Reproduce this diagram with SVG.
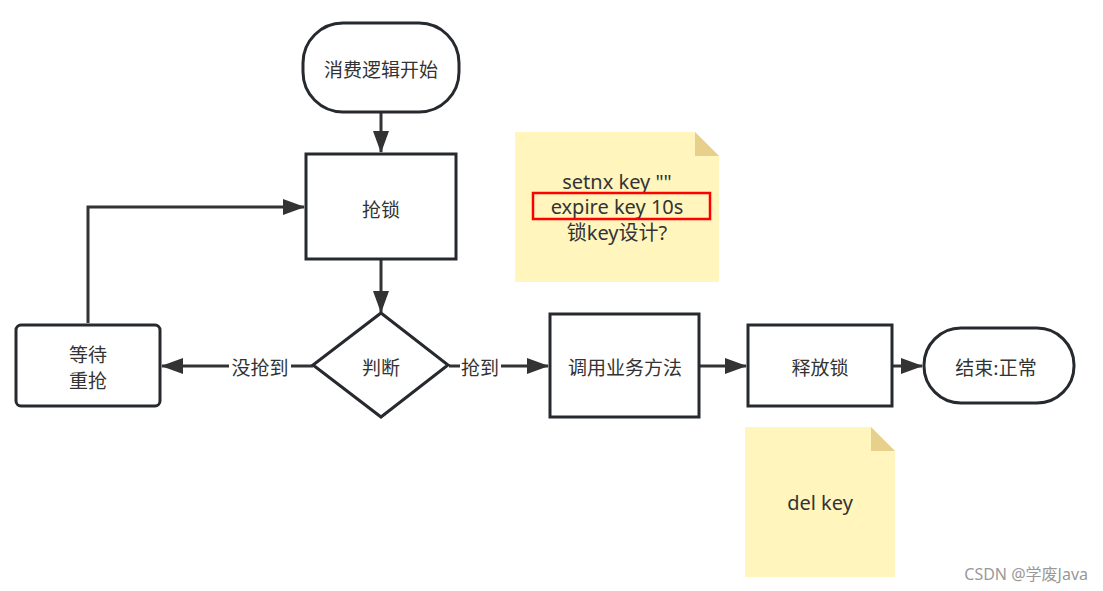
<svg xmlns="http://www.w3.org/2000/svg" width="1103" height="591" viewBox="0 0 1103 591">
<style>
.node{fill:#fff;stroke:#262a2e;stroke-width:3}
.lbl{font-family:"Noto Sans CJK SC","Noto Sans",sans-serif;font-size:19px;fill:#333;text-anchor:middle;dominant-baseline:central}
.conn{fill:none;stroke:#333;stroke-width:3}
.note{fill:#fff5bd}
.fold{fill:#e6d08c}
.elbl{font-family:"Noto Sans CJK SC","Noto Sans",sans-serif;font-size:19px;fill:#333;text-anchor:middle;dominant-baseline:central}
.ntxt{font-family:"Noto Sans","Noto Sans CJK SC",sans-serif;font-size:20px;fill:#333;text-anchor:middle;dominant-baseline:central}
</style>
<defs>
<marker id="ah" markerUnits="userSpaceOnUse" markerWidth="22" markerHeight="16" refX="21" refY="8" orient="auto">
<path d="M0,0 L22,8 L0,16 z" fill="#333"/>
</marker>
</defs>
<rect width="1103" height="591" fill="#fff"/>
<g id="connectors">
<path class="conn" d="M381,113 V152" marker-end="url(#ah)"/>
<path class="conn" d="M381,260 V312" marker-end="url(#ah)"/>
<path class="conn" d="M88,323 V207 H304" marker-end="url(#ah)"/>
<path class="conn" d="M313,366 H162" marker-end="url(#ah)"/>
<path class="conn" d="M449,366 H548" marker-end="url(#ah)"/>
<path class="conn" d="M700,366 H746" marker-end="url(#ah)"/>
<path class="conn" d="M893,366 H922" marker-end="url(#ah)"/>
<rect x="229" y="354" width="62" height="25" fill="#fff"/>
<text class="elbl" x="260" y="366">没抢到</text>
<rect x="460" y="354" width="41" height="25" fill="#fff"/>
<text class="elbl" x="480" y="366">抢到</text>
</g>
<g id="start">
<rect class="node" x="303" y="23" width="156" height="89" rx="40" ry="40"/>
<text class="lbl" x="381" y="68">消费逻辑开始</text>
</g>
<g id="lock">
<rect class="node" x="306" y="154" width="150" height="105"/>
<text class="lbl" x="381" y="208">抢锁</text>
</g>
<g id="decide">
<polygon class="node" points="381,313 448,365 381,417 313,365"/>
<text class="lbl" x="381" y="366">判断</text>
</g>
<g id="wait">
<rect class="node" x="16" y="325" width="144" height="81" rx="5" ry="5"/>
<text class="lbl" x="88" y="353">等待</text>
<text class="lbl" x="88" y="379">重抢</text>
</g>
<g id="business">
<rect class="node" x="550" y="314" width="149" height="103"/>
<text class="lbl" x="625" y="366">调用业务方法</text>
</g>
<g id="release">
<rect class="node" x="748" y="325" width="144" height="81"/>
<text class="lbl" x="820" y="366">释放锁</text>
</g>
<g id="end">
<rect class="node" x="924" y="328" width="150" height="75" rx="37" ry="37"/>
<text class="lbl" x="996" y="366">结束:正常</text>
</g>
<g id="note1">
<path class="note" d="M515,132 H695 L719,156 V282 H515 z"/>
<path class="fold" d="M695,132 L719,156 H695 z"/>
<text class="ntxt" x="617" y="181">setnx key ""</text>
<text class="ntxt" x="617" y="206">expire key 10s</text>
<text class="ntxt" x="617" y="232">锁key设计?</text>
<rect x="533" y="193" width="177" height="26" fill="none" stroke="#f00" stroke-width="2.5"/>
</g>
<g id="note2">
<path class="note" d="M745,427 H871 L895,451 V577 H745 z"/>
<path class="fold" d="M871,427 L895,451 H871 z"/>
<text class="ntxt" x="820" y="502">del key</text>
</g>
<text x="1088" y="580" font-family="'Noto Sans','Noto Sans CJK SC',sans-serif" font-size="16" fill="#999" text-anchor="end">CSDN @学废Java</text>
</svg>
